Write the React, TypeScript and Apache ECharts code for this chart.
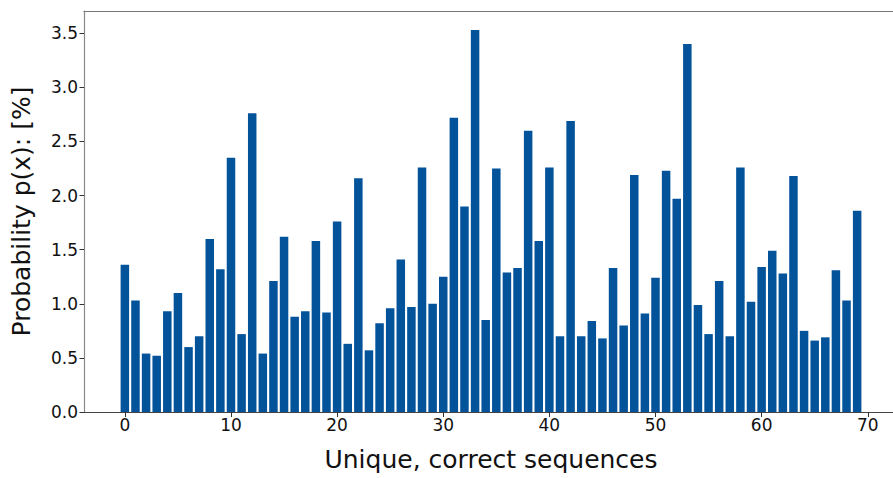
import React, { useEffect, useRef } from "react";
import * as echarts from "echarts";

const indices: number[] = Array.from({ length: 70 }, (_, i) => i);
const probabilities: number[] = [
  1.36, 1.03, 0.54, 0.52, 0.93, 1.10, 0.60, 0.70, 1.60, 1.32,
  2.35, 0.72, 2.76, 0.54, 1.21, 1.62, 0.88, 0.93, 1.58, 0.92,
  1.76, 0.63, 2.16, 0.57, 0.82, 0.96, 1.41, 0.97, 2.26, 1.00,
  1.25, 2.72, 1.90, 3.53, 0.85, 2.25, 1.29, 1.33, 2.60, 1.58,
  2.26, 0.70, 2.69, 0.70, 0.84, 0.68, 1.33, 0.80, 2.19, 0.91,
  1.24, 2.23, 1.97, 3.40, 0.99, 0.72, 1.21, 0.70, 2.26, 1.02,
  1.34, 1.49, 1.28, 2.18, 0.75, 0.66, 0.69, 1.31, 1.03, 1.86,
];
const xTicks: number[] = [0, 10, 20, 30, 40, 50, 60, 70];
const xTitle = "Unique, correct sequences";
const yTitle = "Probability p(x): [%]";

const FONT = "DejaVu Sans";

export default function App() {
  const ref = useRef<HTMLDivElement>(null);
  useEffect(() => {
    if (!ref.current) return;
    const chart = echarts.init(ref.current, null, { renderer: "svg" });
    chart.setOption({
      animation: false,
      backgroundColor: "#ffffff",
      grid: { left: 84, right: 1, top: 11, bottom: 66, containLabel: false },
      xAxis: [
        {
          type: "value",
          min: -3.85,
          max: 72.85,
          position: "bottom",
          splitLine: { show: false },
          axisLine: { show: true, onZero: false, lineStyle: { color: "#444", width: 1.2 } },
          axisTick: { show: true, length: 5, customValues: xTicks, lineStyle: { color: "#333" } },
          axisLabel: {
            customValues: xTicks,
            fontFamily: FONT,
            fontSize: 17,
            color: "#111",
            margin: 4,
          },
          name: xTitle,
          nameLocation: "middle",
          nameGap: 35,
          nameTextStyle: { fontFamily: FONT, fontSize: 25, color: "#111" },
        },
        {
          type: "value",
          min: -3.85,
          max: 72.85,
          position: "top",
          splitLine: { show: false },
          axisLine: { show: true, onZero: false, lineStyle: { color: "#777", width: 1.2 } },
          axisTick: { show: false },
          axisLabel: { show: false },
        },
      ],
      yAxis: {
        type: "value",
        min: 0,
        max: 3.706,
        interval: 0.5,
        splitLine: { show: false },
        axisLine: { show: true, onZero: false, lineStyle: { color: "#888", width: 1.2 } },
        axisTick: { show: true, length: 4.5, lineStyle: { color: "#333" } },
        axisLabel: {
          fontFamily: FONT,
          fontSize: 17,
          color: "#111",
          margin: 6,
          showMaxLabel: false,
          formatter: (v: number) => v.toFixed(1),
        },
        name: yTitle,
        nameLocation: "middle",
        nameGap: 50,
        nameTextStyle: { fontFamily: FONT, fontSize: 25, color: "#111" },
      },
      series: [
        {
          type: "bar",
          xAxisIndex: 0,
          barWidth: 8.5,
          itemStyle: { color: "#03539a" },
          data: indices.map((i) => [i, probabilities[i]]),
        },
      ],
    });
    return () => chart.dispose();
  }, []);
  return (
    <div
      style={{
        position: "fixed",
        left: 0,
        top: 0,
        width: 893,
        height: 478,
        overflow: "hidden",
        background: "#ffffff",
      }}
    >
      <div ref={ref} style={{ width: 899, height: 478 }} />
    </div>
  );
}
